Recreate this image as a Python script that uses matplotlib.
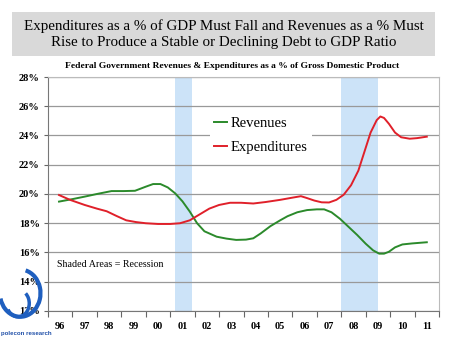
import numpy as np
import matplotlib.pyplot as plt
from matplotlib.patches import Rectangle, Arc

plt.rcParams['font.family'] = ['Liberation Serif', 'DejaVu Serif']

# DATA (x = years since start of 1996)
rev_x = [0.45, 1.0, 1.5, 2.0, 2.6, 3.1, 3.56, 4.0, 4.3, 4.6, 4.9, 5.2, 5.5, 5.8,
         6.1, 6.4, 6.9, 7.3, 7.7, 8.1, 8.4, 8.7, 9.1, 9.5, 9.8, 10.2, 10.6,
         11.0, 11.3, 11.6, 11.95, 12.3, 12.65, 13.0, 13.3, 13.55, 13.75,
         13.95, 14.2, 14.5, 14.9, 15.5]
revenues = [19.48, 19.65, 19.82, 20.0, 20.2, 20.2, 20.22, 20.5, 20.68, 20.68,
            20.45, 20.05, 19.5, 18.8, 18.0, 17.45, 17.08, 16.95, 16.86, 16.88,
            16.97, 17.3, 17.8, 18.2, 18.48, 18.75, 18.9, 18.95, 18.95, 18.75,
            18.3, 17.75, 17.2, 16.6, 16.15, 15.92, 15.92, 16.05, 16.35, 16.55,
            16.62, 16.7]

exp_x = [0.45, 0.9, 1.5, 2.0, 2.4, 2.8, 3.2, 3.6, 4.0, 4.5, 5.0, 5.4, 5.8, 6.2,
         6.6, 7.0, 7.45, 7.9, 8.4, 8.9, 9.5, 10.0, 10.35, 10.6, 10.9, 11.2,
         11.5, 11.8, 12.1, 12.4, 12.7, 12.95, 13.2, 13.45, 13.6, 13.75, 13.95,
         14.2, 14.45, 14.8, 15.1, 15.5]
expenditures = [19.93, 19.6, 19.25, 19.0, 18.82, 18.5, 18.2, 18.08, 18.0,
                17.95, 17.95, 18.0, 18.2, 18.6, 19.0, 19.25, 19.4, 19.4, 19.35,
                19.45, 19.6, 19.75, 19.85, 19.72, 19.55, 19.43, 19.42, 19.6,
                19.95, 20.6, 21.6, 22.9, 24.2, 25.05, 25.3, 25.2, 24.8, 24.2,
                23.88, 23.78, 23.82, 23.92]

recessions = [(5.2, 5.9), (12.0, 13.5)]
year_labels = ["96", "97", "98", "99", "00", "01", "02", "03", "04", "05",
               "06", "07", "08", "09", "10", "11"]
y_ticks = [12, 14, 16, 18, 20, 22, 24, 26, 28]

fig = plt.figure(figsize=(4.5, 3.37), dpi=100)

# TITLE BOX
fig.patches.append(Rectangle((0.027, 0.834), 0.94, 0.131,
                             transform=fig.transFigure, facecolor="#d9d9d9",
                             edgecolor="none"))
fig.text(0.497, 0.9, "Expenditures as a % of GDP Must Fall and Revenues as a % Must\n"
         "Rise to Produce a Stable or Declining Debt to GDP Ratio",
         ha="center", va="center", fontsize=10.8, linespacing=1.3)
fig.text(0.515, 0.803,
         "Federal Government Revenues & Expenditures as a % of Gross Domestic Product",
         ha="center", va="center", fontsize=6.8, fontweight="bold")

ax = fig.add_axes([0.1067, 0.0772, 0.8689, 0.6943])

for start, end in recessions:
    ax.axvspan(start, end, color="#cce3f8", lw=0, zorder=0)

ax.plot(rev_x, revenues, color="#2b8a2b", lw=1.4, label="Revenues", zorder=3)
ax.plot(exp_x, expenditures, color="#e0202a", lw=1.4, label="Expenditures", zorder=3)

ax.set_xlim(0, 16)
ax.set_ylim(12, 28)
ax.set_yticks(y_ticks)
ax.set_yticklabels([f"{v}%" for v in y_ticks], fontsize=7.5, fontweight="bold")
ax.yaxis.grid(True, color="#999999", lw=0.9, zorder=1)
ax.set_axisbelow(True)

ax.set_xticks(np.arange(0, 17))
ax.set_xticklabels([])
ax.set_xticks(np.arange(0.5, 16), minor=True)
ax.set_xticklabels(year_labels, minor=True, fontsize=7.5, fontweight="bold")
ax.tick_params(axis="x", which="major", length=4, color="#666666")
ax.tick_params(axis="x", which="minor", length=0, pad=8)
ax.tick_params(axis="y", length=3, color="#666666", pad=3)

for side in ["top", "right"]:
    ax.spines[side].set_color("#bbbbbb")
for side in ["left", "bottom"]:
    ax.spines[side].set_color("#777777")

leg = ax.legend(loc="upper left", bbox_to_anchor=(0.395, 0.88), fontsize=10.5,
                frameon=True, handlelength=0.9, handletextpad=0.25,
                borderpad=0.3, labelspacing=0.75, fancybox=False)
leg.get_frame().set_facecolor("white")
leg.get_frame().set_edgecolor("none")
leg.get_frame().set_alpha(1)

ax.text(0.022, 0.2, "Shaded Areas = Recession", transform=ax.transAxes,
        fontsize=7.2, va="center")

# LOGO
fig.patches.append(Arc((0.045, 0.13), 0.09, 0.14, theta1=200, theta2=80,
                       transform=fig.transFigure, color="#1f5fbf", lw=3))
fig.patches.append(Arc((0.04, 0.1), 0.05, 0.08, theta1=220, theta2=60,
                       transform=fig.transFigure, color="#1f5fbf", lw=2.5))
fig.text(0.002, 0.006, "polecon research", fontsize=4.4, color="#1f4fa8",
         family=["Liberation Sans"], fontweight="bold")

fig.savefig("out.png", dpi=100, facecolor="white")
